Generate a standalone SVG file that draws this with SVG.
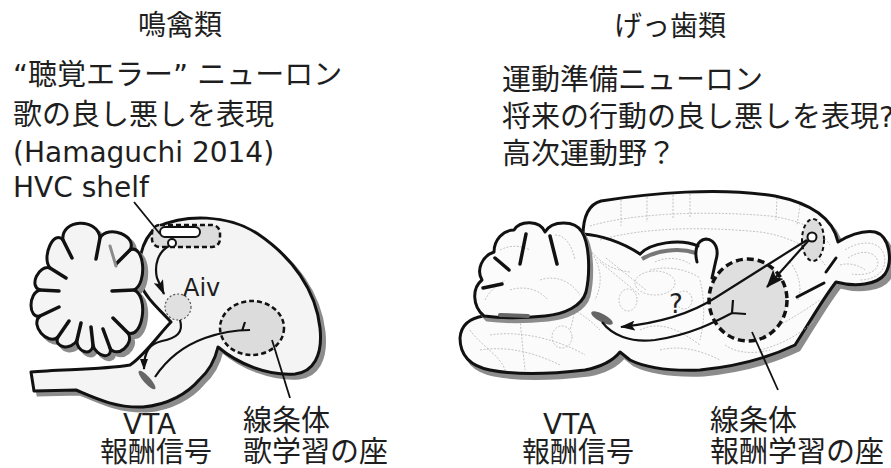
<svg xmlns="http://www.w3.org/2000/svg" width="891" height="468" viewBox="0 0 891 468">
  <style>
    .txt { font-family: "DejaVu Sans", "Noto Sans CJK JP", sans-serif; fill: #1e1e1e; }
    .jp { font-size: 29px; }
    .ttl { font-size: 28px; }
    .lat { font-size: 28px; }
    .outline { stroke: #111; stroke-width: 3; stroke-linejoin: round; }
    .shadow { fill: #8c8c8c; stroke: #8c8c8c; stroke-width: 3; }
    .slit { stroke: #111; stroke-width: 3.5; stroke-linecap: round; fill: none; }
    .thick { stroke: #111; stroke-width: 3; stroke-linecap: round; fill: none; }
    .atlas { stroke: #b4b4b4; stroke-width: 0.8; stroke-dasharray: 2 1.5; fill: none; }
    .region { fill: #dcdcdc; stroke: #111; stroke-width: 2.5; stroke-dasharray: 5 3; }
    .arrow { stroke: #111; stroke-width: 2.2; fill: none; }
    .pointer { stroke: #111; stroke-width: 1.8; fill: none; }
  </style>
  <defs>
    <marker id="headBig" viewBox="0 0 18 14" refX="17" refY="7" markerWidth="18" markerHeight="14" markerUnits="userSpaceOnUse" orient="auto">
      <path d="M0,0 L18,7 L0,14 L4,7 z" fill="#111"/>
    </marker>
    <marker id="headMid" viewBox="0 0 15 10" refX="14" refY="5" markerWidth="15" markerHeight="10" markerUnits="userSpaceOnUse" orient="auto">
      <path d="M0,0 L15,5 L0,10 L3,5 z" fill="#111"/>
    </marker>
    <marker id="headSmall" viewBox="0 0 11 8" refX="10" refY="4" markerWidth="11" markerHeight="8" markerUnits="userSpaceOnUse" orient="auto">
      <path d="M0,0 L11,4 L0,8 z" fill="#111"/>
    </marker>
    <!-- songbird forebrain + brainstem -->
    <path id="birdBody" d="M157,227 C185,214 228,214 258,234 C292,257 316,290 320,328 C323,356 313,372 295,374 C268,376 238,364 218,347 C215,360 208,372 199,380 C188,393 168,405 143,407 C115,408 95,398 76,390 L34,391 L31,372 C60,369 100,370 130,365 C145,355 160,333 171,322 C158,308 146,298 141,285 C136,268 140,240 157,227 Z"/>
    <!-- songbird cerebellum with folia -->
    <path id="birdCb" d="M63,240 C60.5,219 97.5,217 100,238 C108,224 138,236 130,250 C144,243 148,283 134,290 C149,296 143,339 128,333 C135,344 117,359 110,348 C113,360 96,357 93,345 C92,357 76,352 77,340 C72,351 53,348 58,337 C47.5,346 29.5,325 40,316 C28,319 28,293 40,290 C28.5,286.5 38.5,264.5 50,268 C41,257 54,229 63,240 Z"/>
    <!-- rodent brain, sagittal outline -->
    <path id="ratBody" d="M583,236 C583,215 590,204 601,201 C650,193 720,187 775,196 C810,203 833,218 838,242 C848,236 862,230 875,232 C890,236 893,262 885,274 C877,285 855,287 836,282 C822,300 808,325 795,345 C770,357 740,366 700,370 C672,371 648,369 630,360 L620,352 C612,362 600,367 585,370 C560,373 520,376 490,370 C470,366 460,356 460,338 C461,325 470,318 484,316 Z"/>
    <path id="ratCb" d="M484,316 C472,306 472,288 482,280 C476,270 482,256 494,252 C494,240 503,230 514,230 C520,220 540,220 545,232 C552,220 575,220 582,232 C590,245 590,275 586,292 C582,306 565,314 545,316 C525,318 500,318 484,316 Z"/>
  </defs>

  <rect width="891" height="468" fill="#ffffff"/>

  <!-- ===== songbird ===== -->
  <g id="songbird-brain">
    <use href="#birdBody" class="shadow" transform="translate(4,4)"/>
    <use href="#birdBody" class="outline" fill="#f4f4f4"/>
    <use href="#birdCb" class="shadow" transform="translate(4,4)"/>
    <use href="#birdCb" class="outline" fill="#f4f4f4"/>
    <path class="slit" d="M63,240 L72,258 M100,238 L96,259 M130,250 L116,264 M134,290 L112,291 M128,333 L113,318 M110,348 L103,329 M93,345 L91,327 M77,340 L81,323 M58,337 L69,321 M40,316 L59,307 M40,290 L59,291 M50,268 L66,278"/>
    <path d="M110,246 L116,266" stroke="#8c8c8c" stroke-width="3" stroke-linecap="round"/>
  </g>

  <g id="hvc-shelf">
    <rect x="152" y="225" width="68" height="22" rx="8" class="region" stroke-width="2"/>
    <rect x="160" y="227" width="40" height="10" rx="5" fill="#ffffff" stroke="#111" stroke-width="2"/>
    <circle cx="172" cy="243" r="4" fill="#ffffff" stroke="#111" stroke-width="2"/>
  </g>

  <g id="aiv">
    <circle cx="178" cy="307" r="13" fill="#e0e0e0" stroke="#555" stroke-width="1.2" stroke-dasharray="2 2"/>
  </g>

  <g id="bird-striatum">
    <ellipse cx="252" cy="328" rx="32" ry="27" class="region"/>
  </g>

  <g id="bird-vta">
    <ellipse cx="147" cy="380" rx="12" ry="3.5" fill="#666" transform="rotate(48 147 380)"/>
  </g>

  <!-- ===== rodent ===== -->
  <g id="rodent-brain">
    <use href="#ratBody" class="shadow" transform="translate(4,5)"/>
    <use href="#ratBody" class="outline" fill="#fbfbfb"/>
    <!-- atlas boundaries -->
    <path class="atlas" d="M590,226 C630,214 700,210 770,216 C800,220 820,230 830,245"/>
    <path class="atlas" d="M621,200 L621,226 M647,197 L647,222 M673,195 L673,218 M690,194 L690,217 M777,198 L776,220 M800,205 L797,225"/>
    <path class="atlas" d="M600,240 C640,228 700,226 760,232 C790,236 815,250 825,265"/>
    <path class="atlas" d="M585,245 C600,260 605,280 595,300 M560,250 C575,270 580,300 570,330 M530,300 C560,300 580,310 600,330"/>
    <path class="atlas" d="M592,252 C600,262 612,270 630,272 M600,262 L640,295 M606,258 L646,290"/>
    <ellipse class="atlas" cx="655" cy="283" rx="20" ry="12"/>
    <ellipse class="atlas" cx="628" cy="300" rx="9" ry="11"/>
    <ellipse class="atlas" cx="562" cy="337" rx="10" ry="11"/>
    <ellipse class="atlas" cx="684" cy="300" rx="8" ry="9"/>
    <path class="atlas" d="M490,335 C520,330 560,340 585,355 M480,350 C510,345 540,355 560,365 M520,320 L525,370 M470,330 C480,345 500,355 505,370"/>
    <path class="atlas" d="M640,330 C660,320 680,330 700,345 M660,350 C680,345 700,350 720,360 M700,280 C705,300 705,320 700,340"/>
    <path class="atlas" d="M770,330 C790,320 805,310 820,300 M760,350 C780,345 800,335 815,320 M790,262 C800,275 802,290 798,300 M725,345 C735,352 750,355 770,350"/>
    <path class="atlas" d="M845,250 C860,240 880,240 884,255 C888,268 878,280 860,280 M848,258 C860,250 875,250 878,262 C878,272 866,276 852,274 M840,265 C850,262 860,266 865,270"/>
    <path class="atlas" d="M655,262 C665,257 680,257 690,264 M650,270 C665,266 685,268 700,278"/>
    <!-- hippocampus and ventricle -->
    <path d="M642,259 C655,251 678,247 696,253" stroke="#777" stroke-width="4" fill="none"/>
    <path class="thick" d="M583,234 C600,235 622,242 640,254"/>
    <path class="thick" stroke-width="4" d="M640,254 C650,243 680,238 698,246"/>
    <path class="thick" d="M697,262 C694,250 697,240 706,239 C716,240 719,250 716,260 L712,278"/>
    <path class="thick" d="M797,297 L824,283 M826,272 L836,258"/>
    <!-- cerebellum -->
    <use href="#ratCb" class="shadow" transform="translate(3,4)"/>
    <use href="#ratCb" class="outline" fill="#fbfbfb"/>
    <path class="atlas" d="M485,300 C490,290 498,285 505,280 M500,250 C510,245 520,245 530,250 M555,235 C565,235 572,245 575,260 M540,280 C555,275 570,280 580,295 M510,290 C525,285 540,290 548,300"/>
    <path class="slit" stroke-width="4" d="M526,234 L520,264 M550,236 L557,264 M483,288 L502,284 M495,258 L509,270"/>
    <path d="M500,315 L528,316" stroke="#666" stroke-width="4" stroke-linecap="round"/>
  </g>

  <g id="motor-area">
    <ellipse cx="813" cy="240" rx="11" ry="21" fill="#dcdcdc" stroke="#111" stroke-width="2" stroke-dasharray="4 3"/>
  </g>

  <g id="rodent-striatum">
    <ellipse cx="748" cy="300" rx="39" ry="41" fill="#d9d9d9" fill-opacity="0.85" stroke="#111" stroke-width="3.5" stroke-dasharray="7 4"/>
  </g>

  <g id="rodent-vta">
    <ellipse cx="602" cy="318" rx="12" ry="4" fill="#666" transform="rotate(28 602 318)"/>
  </g>

  <!-- ===== connectors ===== -->
  <g id="connectors">
    <!-- songbird -->
    <path class="pointer" d="M134,202 L160,234"/>
    <path class="arrow" d="M169,246 C158,252 154,265 157,278 L164,294" marker-end="url(#headMid)"/>
    <path class="arrow" d="M180,320 C184,333 176,338 162,341 C150,344 144,350 144,369" marker-end="url(#headSmall)"/>
    <path class="arrow" d="M155,377 C165,362 180,347 205,338 C222,332 236,330 250,330 M242,331 L245,322"/>
    <path class="pointer" d="M272,340 L290,398"/>
    <!-- rodent -->
    <path class="arrow" d="M809,240 L767,287" marker-end="url(#headBig)"/>
    <path class="arrow" d="M807,240 L715,298 C695,311 668,322 621,327" marker-end="url(#headMid)"/>
    <path class="arrow" d="M732,313 C715,322 690,335 655,340 C630,343 612,335 602,322 M732,313 L733,300 M732,313 L746,314"/>
    <path class="pointer" d="M752,332 L778,390"/>
    <circle cx="812" cy="237" r="4.5" fill="#ffffff" stroke="#111" stroke-width="2"/>
  </g>

  <!-- ===== labels ===== -->
  <g id="labels">
    <text class="txt ttl" x="180" y="35" text-anchor="middle">鳴禽類</text>
    <text class="txt jp" x="13" y="85">“聴覚エラー” ニューロン</text>
    <text class="txt jp" x="13" y="125">歌の良し悪しを表現</text>
    <text class="txt lat" x="13" y="162">(Hamaguchi 2014)</text>
    <text class="txt lat" x="13" y="197">HVC shelf</text>
    <text class="txt" font-size="24" x="183" y="296">Aiv</text>
    <text class="txt lat" x="123" y="434">VTA</text>
    <text class="txt ttl" x="100" y="462">報酬信号</text>
    <text class="txt jp" x="243" y="431">線条体</text>
    <text class="txt jp" x="243" y="462">歌学習の座</text>

    <text class="txt ttl" x="670" y="36" text-anchor="middle">げっ歯類</text>
    <text class="txt jp" x="502" y="90">運動準備ニューロン</text>
    <text class="txt jp" x="502" y="127">将来の行動の良し悪しを表現?</text>
    <text class="txt jp" x="502" y="164">高次運動野？</text>
    <text class="txt" font-size="26" x="669" y="313">?</text>
    <text class="txt lat" x="543" y="434">VTA</text>
    <text class="txt ttl" x="522" y="462">報酬信号</text>
    <text class="txt jp" x="710" y="431">線条体</text>
    <text class="txt jp" x="710" y="462">報酬学習の座</text>
  </g>
</svg>
